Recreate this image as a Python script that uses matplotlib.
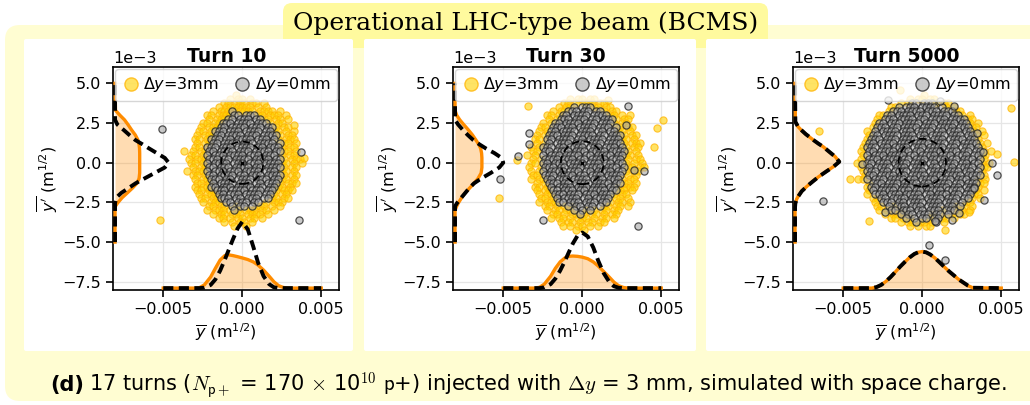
import numpy as np
import matplotlib
matplotlib.use("Agg")
import matplotlib.pyplot as plt
from matplotlib.patches import FancyBboxPatch, Circle
from matplotlib.lines import Line2D

# ------------------------------------------------------------------
# data, all phase-space coordinates in units of 1e-3 m^(1/2)
# ------------------------------------------------------------------
TITLES = ["Turn 10", "Turn 30", "Turn 5000"]
LEGEND_LABELS = [r"$\Delta y$=3mm", r"$\Delta y$=0mm"]
HEADER = "Operational LHC-type beam (BCMS)"
CAPTION = (r"17 turns ($N_{\mathsf{p+}}$ = 170 $\times$ 10$^{\mathsf{10}}$ $\mathsf{p}$+) "
           r"injected with $\Delta y$ = 3 mm, simulated with space charge.")

# particle maps: one char per 0.25 cell (odd rows shifted half a cell),
# '*' = dy=3mm particle, 'o' = dy=0mm particle
MAP_X0, MAP_Y0, MAP_STEP = -4.5, 4.5, 0.25

turn10_map = [
    "",
    "................*",
    "...............*.**.*",
    ".............**.***.**.*",
    "............*.*******.*.*",
    "..........*.***o*****.****.*",
    ".........**.****oo.ooo**.***.*",
    ".........*.***oo.ooo.oo**.**.*",
    "........**.**ooo.oooo.ooo*.**",
    ".......*.***oo.oooo.ooo.oo*.**",
    ".......**.*ooo.ooo.oooo.oo**.*.*",
    "......*.***oo.oooo.ooo.oooo*.**",
    "......**.*ooo.oo.oooo.ooo.o*.***",
    "......*.**oo.oooo.ooo.oooo.o**.*",
    "......**.ooo.ooo.oooo.oo.ooo*.**",
    ".....*.**oo.oooo.ooo.oooo.oo**.*",
    ".....**.*o.ooo.oooo.ooo.ooo.*.**",
    "....*.***ooo.oo.oooo.oooo.oo*.***",
    ".....**.*o.oooo.ooo.ooo.oooo**.*.*",
    ".....*.**oo.ooo.oooo.oo.oooo*.**",
    "....*.***o.ooo.ooo.oooo.ooo.**.*",
    ".....**.*oo.oooo.oo.ooo.oooo*.**",
    "......*.**ooo.oo.oooo.ooo.oo**.*",
    "......**.*o.oooo.ooo.oo.ooo*.***",
    "......*.**oo.ooo.oooo.oo.oo**.*",
    "......**.**ooo.oooo.ooo.oo*.***",
    ".......*.***oo.ooo.oooo.oo*.**",
    ".......**.**ooo.oo.ooo.oo**.**",
    "........*.***.oo.ooo.oo.*.***",
    ".........**.**.o*oo.o***.*.*",
    ".........*.***.*o*.***.**.*",
    "..........*.**.***.****.*",
    "............**.*.**.**.*",
    ".............*.*.**.*",
    "................*..*",
]
turn10_gray_out = [(-5.1, 2.1), (3.7, 0.7), (3.6, -3.6)]
turn10_yellow_out = [(3.3, 2.35), (3.9, 0.3), (-3.7, 0.75), (-5.2, -3.6)]

turn30_map = [
    "",
    "",
    "...............*.**.**",
    ".............**.*.***.**",
    "............*.**o.ooo**.**",
    "..........*.**ooo.oo.oo*.**",
    ".........**.*oo.oooo.oooo**.*.*",
    ".........*.*ooo.ooo.oo.ooo*.**",
    "........*.*oo.oooo.ooo.ooo*.**",
    ".......**.ooo.oo.oooo.ooo.o*.**",
    ".......*.*oo.oooo.ooo.oo.oo**.*",
    "......*.*ooo.ooo.oooo.oo.ooo*.**",
    "......**.oo.oooo.oo.oooo.ooo**.*",
    "......*.*o.oooo.ooo.ooo.oooo*.***",
    ".....*.*ooo.oo.oooo.ooo.ooo.o*.**",
    ".....**.oo.oooo.ooo.oooo.oooo*.*",
    "....*.*.o.ooo.oooo.oo.oooo.oo**.*",
    ".....*.*oooo.ooo.oo.oooo.ooo.*.**",
    ".....**.oo.ooo.oooo.ooo.oo.oo*.*.*",
    "....*..*ooo.oo.ooo.oooo.ooo.o**.*",
    ".....*.*o.oooo.ooo.oo.oooo.oo*.**",
    ".....**.ooo.oooo.oo.ooo.oooo.*.*",
    ".....*.**oo.ooo.oooo.ooo.ooo*.**",
    "......*.*ooo.oo.oooo.oooo.oo**.*",
    "......**.*o.oooo.ooo.ooo.oo*.***",
    "......*.**oo.ooo.oo.oooo.oo**.*",
    ".......*.**ooo.ooo.ooo.ooo*.**",
    ".......**.*o.oooo.oo.oooo.**.*",
    ".......*.***oo.ooo.ooo.oo*.**.*",
    "........**.*.*o*oo.oo.o**.**.*",
    ".........*.**.**o.o*o*.**.**",
    "..........**.*.**o*.**.*.**",
    "..........*.**.*.***.*.**.*",
    "............*.**.*.**.**",
    ".............*.*.**.*.*",
    "................*.*",
]
turn30_gray_out = [(-5.2, -1.0), (-4.05, 0.45), (-3.4, 1.9), (-3.35, 1.2), (2.9, 3.55),
                   (2.75, 2.4), (3.3, -0.45), (3.9, -0.55), (-2.5, -3.6), (3.5, -4.0)]
turn30_yellow_out = [(-5.3, -2.25), (-4.1, 0.15), (-3.45, 3.6), (1.6, 3.95), (5.1, 2.7),
                     (4.75, 2.2), (4.55, 1.0), (3.9, -0.3)]

turn5000_map = [
    "",
    "..................*",
    "...............*.**.**",
    "............*.*oo.ooo*.**",
    "..........**o.ooo.oooo.o*.*",
    ".........*ooo.oooo.ooo.ooo**",
    ".......**oo.oooo.ooo.oooo.oo*.*",
    "......*.ooo.oooo.oo.oooo.oooo**",
    "......*oo.ooo.oooo.ooo.oooo.oo*.*",
    ".....*ooo.oo.oooo.ooo.oooo.ooo**",
    "....*.o.oooo.ooo.oooo.oo.ooo.oo*.*",
    "....*oo.oooo.ooo.oo.oooo.ooo.oo*.*",
    "....*ooo.ooo.oooo.oo.ooo.oooo.oo*",
    "...*oo.oooo.ooo.oooo.ooo.oo.oooo*.*",
    "...*ooo.oo.oooo.ooo.oooo.oo.ooo.o*",
    "..*.oo.oooo.ooo.oo.oooo.ooo.oo.oo*.*",
    "...*o.ooo.oooo.oo.oooo.ooo.ooo.oo**",
    "..*.ooo.oooo.oo.ooo.oooo.oo.ooo.o*",
    "...*oo.ooo.oooo.ooo.oo.oooo.oo.oo*.*",
    "..*.o.oooo.ooo.oooo.oo.ooo.oooo.o**",
    "...*ooo.oo.oooo.ooo.oooo.ooo.oo.o*",
    "...*oo.oooo.oo.oooo.ooo.oooo.oooo*",
    "...*o.ooo.oooo.oo.oooo.ooo.ooo.o*.*",
    "....*ooo.ooo.oooo.oo.oooo.oo.ooo**",
    "....*oo.oooo.ooo.oooo.ooo.oo.ooo*",
    "....*o.oooo.ooo.oo.oooo.oooo.oo*.*",
    "....*.ooo.ooo.oooo.oo.ooo.oo.oo**",
    ".....**oo.oooo.ooo.oooo.ooo.oo*.*",
    "......*.ooo.oo.oooo.ooo.ooo.o**",
    "......**.o*ooo.ooo.oooo.oo*o*.*",
    ".......*.*oo*ooo.oo.ooo*ooo**.*",
    "........*.**o*oo.ooo*oo.o*.**",
    "..........**.*o*o.oo*oo**.*",
    "............*.**o**.*o.*",
    "...............*.*.**",
]
turn5000_gray_out = [(-6.3, -2.4), (-3.8, -0.1), (-2.15, 3.95), (1.1, 3.9), (2.0, 3.55),
                     (3.45, 1.85), (3.85, 0.7), (4.4, 0.0), (4.75, -0.8), (3.25, -1.6),
                     (3.9, -2.35), (2.3, -3.15), (-2.35, -3.1), (0.8, -3.7), (1.9, -3.6),
                     (0.45, -5.2), (1.45, -6.15)]
turn5000_yellow_out = [(-6.55, 2.0), (-4.6, -1.0), (-4.05, -1.0), (-4.1, 0.0), (5.6, 3.45),
                       (5.8, 0.05), (4.75, 0.55), (-3.4, -3.7), (1.45, -4.25), (2.95, -3.1),
                       (-1.4, 4.6)]

# projected profiles: bottom = ybar profile (height), left = ybar' profile (width)
turn10_bot_x = [-5.0, -3.0, -2.7, -2.4, -2.0, -1.7, -1.4, -1.1, -0.9, -0.6, -0.3, 0.0,
                0.35, 0.7, 1.0, 1.35, 1.7, 2.0, 2.3, 2.6, 2.9, 5.0]
turn10_bot_3mm = [0, 0, 0.03, 0.2, 0.7, 1.25, 1.77, 2.05, 2.1, 2.05, 1.98, 1.9,
                  1.8, 1.65, 1.45, 1.13, 0.75, 0.4, 0.15, 0.04, 0, 0]
turn10_bot_0mm = [0, 0, 0, 0.03, 0.2, 0.55, 1.1, 1.8, 2.3, 3.05, 3.75, 4.18,
                  3.7, 2.6, 1.6, 0.75, 0.25, 0.05, 0, 0, 0, 0]
turn10_left_y = [-5.0, -3.0, -2.75, -2.55, -2.2, -1.9, -1.6, -1.3, -1.0, -0.65, -0.3, 0.0,
                 0.3, 0.6, 0.9, 1.15, 1.43, 1.75, 2.06, 2.4, 2.7, 3.0, 3.3, 5.0]
turn10_left_3mm = [0, 0, 0.02, 0.15, 0.45, 0.78, 1.1, 1.38, 1.52, 1.56, 1.56, 1.56,
                   1.56, 1.56, 1.55, 1.52, 1.45, 1.28, 1.05, 0.82, 0.6, 0.3, 0.03, 0]
turn10_left_0mm = [0, 0, 0, 0, 0.08, 0.4, 0.85, 1.3, 1.85, 2.5, 3.15, 3.39,
                   3.15, 2.65, 2.15, 1.75, 1.28, 0.9, 0.55, 0.15, 0, 0, 0, 0]

turn30_bot_x = turn10_bot_x
turn30_bot_3mm = [0, 0, 0.05, 0.25, 0.75, 1.25, 1.65, 1.9, 2.0, 2.02, 2.0, 1.95,
                  1.85, 1.65, 1.4, 1.05, 0.7, 0.38, 0.15, 0.04, 0, 0]
turn30_bot_0mm = [0, 0, 0, 0.05, 0.25, 0.6, 1.1, 1.7, 2.15, 2.8, 3.3, 3.5,
                  3.25, 2.55, 1.75, 0.95, 0.4, 0.12, 0.02, 0, 0, 0]
turn30_left_y = turn10_left_y
turn30_left_3mm = [0, 0, 0.1, 0.2, 0.42, 0.65, 0.92, 1.2, 1.45, 1.65, 1.7, 1.7,
                   1.7, 1.68, 1.62, 1.5, 1.32, 1.1, 0.85, 0.55, 0.3, 0.1, 0, 0]
turn30_left_0mm = [0, 0, 0, 0.12, 0.4, 0.65, 0.9, 1.2, 1.65, 2.25, 2.8, 3.05,
                   2.95, 2.5, 1.95, 1.55, 1.15, 0.8, 0.5, 0.2, 0, 0, 0, 0]

turn5000_bot_x = [-5.0, -3.2, -2.9, -2.6, -2.3, -2.0, -1.7, -1.4, -1.1, -0.8, -0.5, -0.25, 0.0,
                  0.25, 0.5, 0.8, 1.1, 1.4, 1.7, 2.0, 2.3, 2.6, 2.9, 3.2, 5.0]
turn5000_bot_3mm = [0, 0, 0.06, 0.2, 0.42, 0.7, 1.02, 1.35, 1.65, 1.93, 2.15, 2.26, 2.3,
                    2.25, 2.12, 1.9, 1.62, 1.33, 1.05, 0.8, 0.55, 0.35, 0.15, 0.02, 0]
turn5000_bot_0mm = [0, 0, 0.06, 0.2, 0.42, 0.7, 1.02, 1.35, 1.65, 1.93, 2.15, 2.26, 2.3,
                    2.25, 2.12, 1.9, 1.62, 1.33, 1.05, 0.8, 0.55, 0.35, 0.15, 0.02, 0]
turn5000_left_y = [-5.0, -2.8, -2.56, -2.3, -2.14, -1.8, -1.5, -1.2, -0.88, -0.55, -0.25,
                   0.06, 0.38, 0.7, 1.0, 1.2, 1.43, 1.8, 2.1, 2.27, 2.58, 5.0]
turn5000_left_3mm = [0, 0, 0.02, 0.1, 0.19, 0.42, 0.74, 1.1, 1.5, 1.98, 2.43,
                     2.8, 2.54, 2.15, 1.79, 1.48, 1.16, 0.68, 0.35, 0.19, 0.02, 0]
turn5000_left_0mm = [0, 0, 0.02, 0.1, 0.19, 0.42, 0.74, 1.1, 1.5, 1.98, 2.43,
                     2.8, 2.54, 2.15, 1.79, 1.48, 1.16, 0.68, 0.35, 0.19, 0.02, 0]

# rms circle radius per turn
circle_radius = [1.33, 1.35, 1.5]

# ------------------------------------------------------------------
# styles
# ------------------------------------------------------------------
YEL_FACE = (1.0, 0.82, 0.0, 0.6)
YEL_EDGE = (1.0, 0.7, 0.0, 0.75)
GRAY_FACE = (0.66, 0.66, 0.66, 0.6)
GRAY_EDGE = (0.15, 0.15, 0.15, 0.8)
ORANGE = "#ff8c00"
PALE = "#fffdd2"
BRIGHT = "#fffa9e"

XLIM = (-8.16e-3, 6.14e-3)
YLIM = (-8.02e-3, 6.03e-3)
BOT_BASE = -7.9e-3
LEFT_BASE = -8.05e-3
SC = 1e-3


def map_points(rows, ch):
    xs, ys = [], []
    for i, row in enumerate(rows):
        shift = 0.5 * (i % 2)
        for j, c in enumerate(row):
            if c == ch:
                xs.append(MAP_X0 + MAP_STEP * (j + shift))
                ys.append(MAP_Y0 - MAP_STEP * i)
    return xs, ys


def draw_panel(ax, title, rows, gray_out, yel_out, bx, b3, b0, ly, l3, l0, radius):
    yx, yy = map_points(rows, "*")
    gx, gy = map_points(rows, "o")
    yx += [p[0] for p in yel_out]
    yy += [p[1] for p in yel_out]
    gx += [p[0] for p in gray_out]
    gy += [p[1] for p in gray_out]

    ax.scatter(np.array(yx) * SC, np.array(yy) * SC, s=27, facecolor=YEL_FACE,
               edgecolor=YEL_EDGE, linewidth=0.8, zorder=2)
    ax.scatter(np.array(gx) * SC, np.array(gy) * SC, s=27, facecolor=GRAY_FACE,
               edgecolor=GRAY_EDGE, linewidth=0.9, zorder=2.1)

    # bottom profile
    bx = np.array(bx) * SC
    ax.fill_between(bx, BOT_BASE, BOT_BASE + np.array(b3) * SC, color=ORANGE,
                    alpha=0.3, lw=0, zorder=3)
    ax.plot(bx, BOT_BASE + np.array(b3) * SC, color=ORANGE, lw=2.4, zorder=4)
    ax.plot(bx, BOT_BASE + np.array(b0) * SC, color="k", lw=2.8,
            ls=(0, (2.6, 1.4)), zorder=4.1)

    # left profile
    ly = np.array(ly) * SC
    ax.fill_betweenx(ly, LEFT_BASE, LEFT_BASE + np.array(l3) * SC, color=ORANGE,
                     alpha=0.3, lw=0, zorder=3)
    ax.plot(LEFT_BASE + np.array(l3) * SC, ly, color=ORANGE, lw=2.4, zorder=4)
    ax.plot(LEFT_BASE + np.array(l0) * SC, ly, color="k", lw=2.8,
            ls=(0, (2.6, 1.4)), zorder=4.1)

    ax.add_patch(Circle((0, 0), radius * SC, fill=False, ec="k", lw=1.3,
                        ls=(0, (4, 2.5)), zorder=5))
    ax.plot([0], [0], marker="x", color="k", ms=3.5, mew=1.0, zorder=5)

    ax.set_xlim(*XLIM)
    ax.set_ylim(*YLIM)
    ax.set_xticks([-0.005, 0.0, 0.005])
    ax.set_yticks([-7.5e-3, -5e-3, -2.5e-3, 0, 2.5e-3, 5e-3])
    ax.ticklabel_format(axis="y", style="sci", scilimits=(0, 0))
    ax.yaxis.get_offset_text().set_fontsize(11.5)
    ax.tick_params(labelsize=11.5, width=1.2, length=5)
    for sp in ax.spines.values():
        sp.set_linewidth(1.2)
    ax.grid(True, color="#e6e6e6", lw=0.9)
    ax.set_axisbelow(True)
    ax.set_title(title, fontsize=13.5, fontweight="bold", pad=3.5)
    ax.set_xlabel(r"$\overline{y}$ (m$^{1/2}$)", fontsize=11.5, labelpad=3)
    ax.set_ylabel(r"$\overline{y'}$ (m$^{1/2}$)", fontsize=11.5, labelpad=2)

    handles = [
        Line2D([], [], ls="none", marker="o", ms=9.5, mfc=YEL_FACE, mec=YEL_EDGE, mew=1.0),
        Line2D([], [], ls="none", marker="o", ms=9.5, mfc=GRAY_FACE, mec=GRAY_EDGE, mew=1.0),
    ]
    ax.legend(handles, LEGEND_LABELS, loc="upper center", ncol=2, fontsize=11.5,
              handletextpad=0.25, columnspacing=0.9, handlelength=1.1,
              borderpad=0.4, borderaxespad=0.12)


fig = plt.figure(figsize=(10.3, 4.05), dpi=100)

# background boxes, drawn in pixel units
bg = fig.add_axes([0, 0, 1, 1])
bg.set_xlim(0, 1030)
bg.set_ylim(405, 0)
bg.axis("off")
bg.add_patch(FancyBboxPatch((5, 25), 1040, 376, boxstyle="round,pad=0,rounding_size=15",
                            fc=PALE, ec="none"))
bg.add_patch(FancyBboxPatch((283, 3), 485, 45, boxstyle="round,pad=0,rounding_size=9",
                            fc=BRIGHT, ec="none"))
for x0, x1 in [(24, 353), (364, 696), (706, 1040)]:
    bg.add_patch(FancyBboxPatch((x0, 39), x1 - x0, 312, boxstyle="round,pad=0,rounding_size=2",
                                fc="white", ec="none"))
bg.text(525.5, 23, HEADER, family="DejaVu Serif", fontsize=18, ha="center", va="center")

cap_font = ["Liberation Sans Narrow", "DejaVu Sans"]
t_d = bg.text(50, 391, "(d)", family=cap_font, fontsize=15, fontweight="bold",
              ha="left", va="baseline")
fig.canvas.draw()
bb = t_d.get_window_extent()
x_after = bg.transData.inverted().transform((bb.x1, bb.y0))[0]
bg.text(x_after + 5, 391, CAPTION, family=cap_font, fontsize=15, ha="left",
        va="baseline", math_fontfamily="cm")

panels = [
    (turn10_map, turn10_gray_out, turn10_yellow_out, turn10_bot_x, turn10_bot_3mm,
     turn10_bot_0mm, turn10_left_y, turn10_left_3mm, turn10_left_0mm),
    (turn30_map, turn30_gray_out, turn30_yellow_out, turn30_bot_x, turn30_bot_3mm,
     turn30_bot_0mm, turn30_left_y, turn30_left_3mm, turn30_left_0mm),
    (turn5000_map, turn5000_gray_out, turn5000_yellow_out, turn5000_bot_x, turn5000_bot_3mm,
     turn5000_bot_0mm, turn5000_left_y, turn5000_left_3mm, turn5000_left_0mm),
]
lefts = [113.3, 453.3, 793.3]
for k, left in enumerate(lefts):
    ax = fig.add_axes([left / 1030, (405 - 290) / 405, 226 / 1030, 223 / 405])
    draw_panel(ax, TITLES[k], *panels[k], circle_radius[k])

fig.savefig("out.png", dpi=100)
